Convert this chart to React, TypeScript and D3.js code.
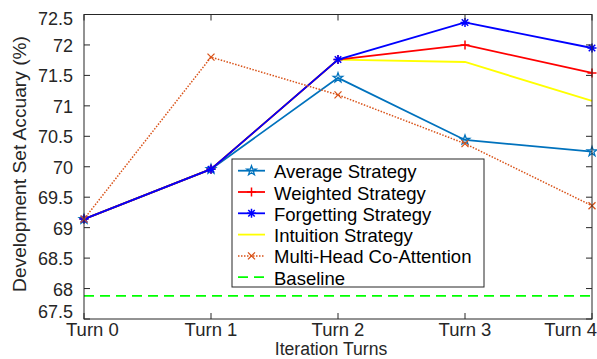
import React from "react";
import * as d3 from "d3";

const turns = ["Turn 0", "Turn 1", "Turn 2", "Turn 3", "Turn 4"];
const yTicks = [67.5, 68, 68.5, 69, 69.5, 70, 70.5, 71, 71.5, 72, 72.5];
const average = [69.14, 69.96, 71.46, 70.44, 70.25];
const weighted = [69.14, 69.96, 71.76, 72.0, 71.54];
const forgetting = [69.14, 69.96, 71.76, 72.37, 71.95];
const intuition = [69.14, 69.96, 71.76, 71.72, 71.08];
const multiHead = [69.14, 71.8, 71.18, 70.38, 69.36];
const baseline = 67.88;

type S = { name: string; values: number[] | null; color: string; marker: string; dash?: string; width: number };
const series: S[] = [
  { name: "Average Strategy", values: average, color: "#0072BD", marker: "star", width: 1.8 },
  { name: "Weighted Strategy", values: weighted, color: "#FF0000", marker: "plus", width: 1.8 },
  { name: "Forgetting Strategy", values: forgetting, color: "#0000FF", marker: "asterisk", width: 1.8 },
  { name: "Intuition Strategy", values: intuition, color: "#FFFF00", marker: "none", width: 1.8 },
  { name: "Multi-Head Co-Attention", values: multiHead, color: "#D95319", marker: "x", dash: "1.5 1.5", width: 1.5 },
  { name: "Baseline", values: null, color: "#00FF00", marker: "none", dash: "10 6", width: 1.8 },
];

const W = 597, H = 359;
const L = 84, R = 592, T = 14.5, B = 319;
const x = d3.scalePoint<string>().domain(turns).range([L, R]);
const y = d3.scaleLinear().domain([67.5, 72.5]).range([B, T]);
const FONT = "'Liberation Sans', Arial, Helvetica, sans-serif";
const AX = "#262626";

function Marker({ type, cx, cy, color }: { type: string; cx: number; cy: number; color: string }) {
  if (type === "star") {
    const pts: [number, number][] = [];
    for (let i = 0; i < 10; i++) {
      const r = i % 2 === 0 ? 5 : 2;
      const a = -Math.PI / 2 + (i * Math.PI) / 5;
      pts.push([cx + r * Math.cos(a), cy + r * Math.sin(a)]);
    }
    return <polygon points={pts.map((p) => p.join(",")).join(" ")} fill="none" stroke={color} strokeWidth={1.3} />;
  }
  if (type === "plus") {
    const s = 4.5;
    return <path d={`M${cx - s},${cy}H${cx + s}M${cx},${cy - s}V${cy + s}`} stroke={color} strokeWidth={1.5} />;
  }
  if (type === "asterisk") {
    const s = 4.5, d = s * 0.72;
    return (
      <path
        d={`M${cx - s},${cy}H${cx + s}M${cx},${cy - s}V${cy + s}M${cx - d},${cy - d}L${cx + d},${cy + d}M${cx - d},${cy + d}L${cx + d},${cy - d}`}
        stroke={color}
        strokeWidth={1.5}
      />
    );
  }
  if (type === "x") {
    const s = 3.5;
    return <path d={`M${cx - s},${cy - s}L${cx + s},${cy + s}M${cx - s},${cy + s}L${cx + s},${cy - s}`} stroke={color} strokeWidth={1.3} />;
  }
  return null;
}

export default function App() {
  const line = d3.line<number>().x((_, i) => x(turns[i])!).y((v) => y(v));
  const drawOrder = [3, 0, 1, 2, 4];
  const legX = 232, legY = 159, legW = 252, legH = 128, rowH = 21.3;
  const yLabelPos = (t: number) => (t === 72.5 ? y(t) + 4 : t === 67.5 ? y(t) - 7.5 : y(t) + 1);
  return (
    <svg width={W} height={H} style={{ position: "absolute", left: 0, top: 0, background: "#fff" }} fontFamily={FONT}>
      <rect x={0} y={0} width={W} height={H} fill="#fff" />
      <line x1={L} x2={R} y1={y(baseline)} y2={y(baseline)} stroke="#00FF00" strokeWidth={1.8} strokeDasharray="10 6" />
      {drawOrder.map((k) => {
        const s = series[k];
        return (
          <g key={s.name}>
            <path d={line(s.values!)!} fill="none" stroke={s.color} strokeWidth={s.width} strokeDasharray={s.dash} />
            {s.values!.map((v, i) => (
              <Marker key={i} type={s.marker} cx={x(turns[i])!} cy={y(v)} color={s.color} />
            ))}
          </g>
        );
      })}
      <rect x={L} y={T} width={R - L} height={B - T} fill="none" stroke={AX} strokeWidth={1} />
      {yTicks.map((t) => (
        <g key={t}>
          <line x1={L} x2={L + 6} y1={y(t)} y2={y(t)} stroke={AX} />
          <line x1={R - 6} x2={R} y1={y(t)} y2={y(t)} stroke={AX} />
          <text x={L - 11} y={yLabelPos(t)} textAnchor="end" dominantBaseline="central" fontSize={18} fill={AX}>
            {t}
          </text>
        </g>
      ))}
      {turns.map((t, i) => {
        const anchor = i === 0 ? "start" : i === turns.length - 1 ? "end" : "middle";
        const tx = i === 0 ? 66 : i === turns.length - 1 ? 597 : x(t)!;
        return (
          <g key={t}>
            <line x1={x(t)!} x2={x(t)!} y1={B} y2={B - 6} stroke={AX} />
            <line x1={x(t)!} x2={x(t)!} y1={T} y2={T + 6} stroke={AX} />
            <text x={tx} y={336} textAnchor={anchor} fontSize={18.5} fill={AX}>
              {t}
            </text>
          </g>
        );
      })}
      <text x={331} y={355} textAnchor="middle" fontSize={17.6} fill={AX}>
        Iteration Turns
      </text>
      <text transform={`translate(26,164) rotate(-90)`} textAnchor="middle" fontSize={19.2} fill={AX}>
        Development Set Accuary (%)
      </text>
      <rect x={legX} y={legY} width={legW} height={legH} fill="#fff" stroke={AX} strokeWidth={1} />
      {series.map((s, i) => {
        const cy = legY + 11.7 + i * rowH;
        return (
          <g key={s.name}>
            <line x1={legX + 6} x2={legX + 33} y1={cy} y2={cy} stroke={s.color} strokeWidth={s.width} strokeDasharray={s.dash} />
            <Marker type={s.marker} cx={legX + 19.5} cy={cy} color={s.color} />
            <text x={legX + 42} y={cy + 1} dominantBaseline="central" fontSize={18.5} fill="#000">
              {s.name}
            </text>
          </g>
        );
      })}
    </svg>
  );
}
